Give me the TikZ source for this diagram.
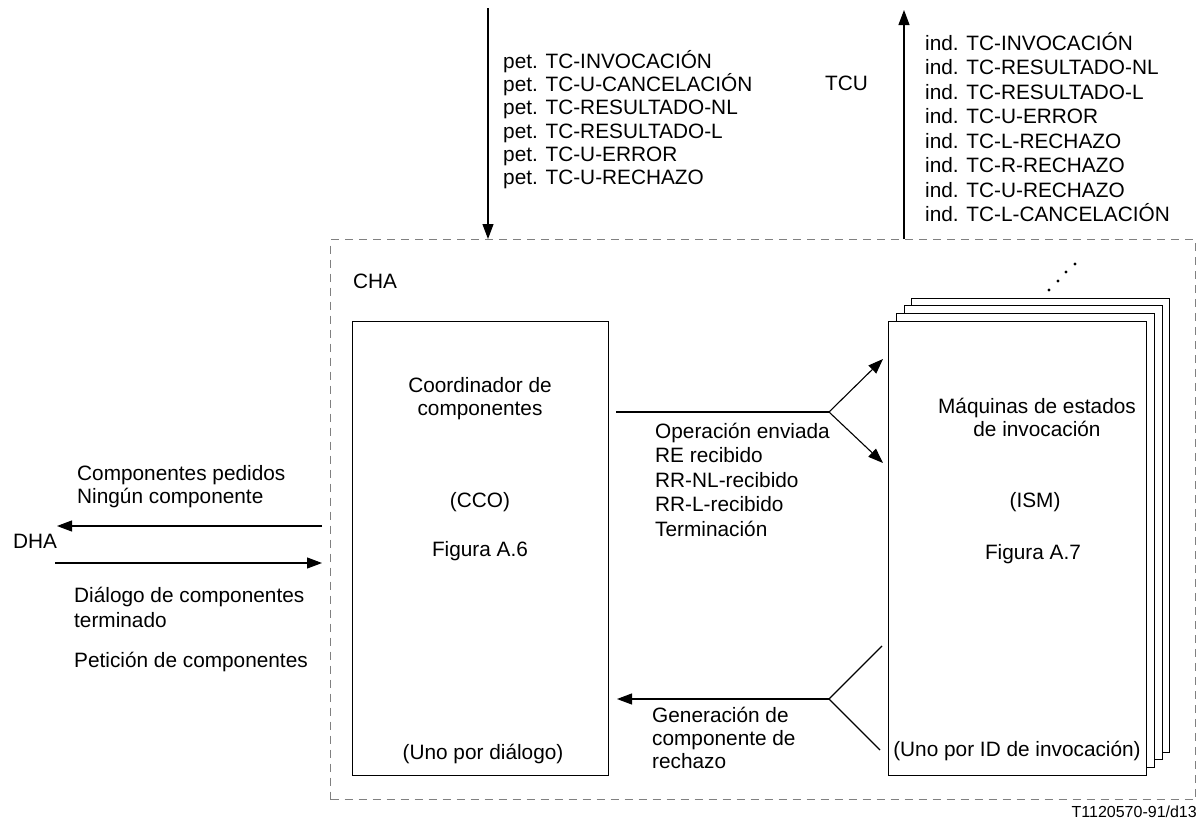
\documentclass[tikz,border=0pt]{standalone}
\usepackage{fontspec}
\setmainfont{Liberation Sans}
\usetikzlibrary{arrows.meta}
\begin{document}
\begin{tikzpicture}[x=1pt,y=-1pt,
  txt/.style={inner sep=0pt, font=\fontsize{20.8}{23.4}\selectfont, anchor=base west, align=left},
  ctxt/.style={inner sep=0pt, font=\fontsize{20.8}{23.4}\selectfont, anchor=base, align=center},
  box/.style={draw, line width=1.2pt, fill=white, anchor=north west, inner sep=0pt, minimum width=258pt, minimum height=454pt},
  ln/.style={line width=1.1pt},
  arr/.style={ln, -{Triangle[length=15pt,width=11pt]}},
  dbox/.style={draw=gray, line width=1pt, dash pattern=on 8pt off 6pt, anchor=north west, inner sep=0pt},
]
\useasboundingbox (0,0) rectangle (1200,825);

\node[dbox, minimum width=865pt, minimum height=560pt] (cha) at (330,239) {};
\node[txt] (chal) at (353,288) {CHA};

\node[box, minimum width=256pt] (cco) at (352,321) {};
\node[box] (ism3) at (911,298) {};
\node[box] (ism2) at (904,305) {};
\node[box] (ism1) at (896,313) {};
\node[box] (ism) at (888,321) {};
\foreach \p in {(1049,290),(1058,281),(1066,272),(1075,264)} \fill \p circle (1.7);

% base anchor = baseline of the last line
\node[ctxt] (coord) at (480,415.4) {Coordinador de\\componentes};
\node[ctxt] (ccol) at (480,507) {(CCO)};
\node[ctxt] (fig6) at (480,556) {Figura A.6};
\node[ctxt] (uno1) at (483,759) {(Uno por diálogo)};
\node[ctxt] (maq) at (1037,436.4) {Máquinas de estados\\de invocación};
\node[ctxt] (isml) at (1035,507) {(ISM)};
\node[ctxt] (fig7) at (1033,559) {Figura A.7};
\node[ctxt] (uno2) at (1017,756) {(Uno por ID de invocación)};

% top
\coordinate (tin) at (488,8);
\draw[arr] (tin) -- (tin |- cha.north);
\coordinate (tout) at (904,10);
\draw[arr] (tout |- cha.north) -- (tout);
\node[txt, font=\fontsize{20.8}{23.2}\selectfont] (pet) at (503,184.5) {pet. TC-INVOCACIÓN\\pet. TC-U-CANCELACIÓN\\pet. TC-RESULTADO-NL\\pet. TC-RESULTADO-L\\pet. TC-U-ERROR\\pet. TC-U-RECHAZO};
\node[txt] (tcu) at (825,90) {TCU};
\node[txt, font=\fontsize{20.8}{24.5}\selectfont] (ind) at (925,221.5) {ind. TC-INVOCACIÓN\\ind. TC-RESULTADO-NL\\ind. TC-RESULTADO-L\\ind. TC-U-ERROR\\ind. TC-L-RECHAZO\\ind. TC-R-RECHAZO\\ind. TC-U-RECHAZO\\ind. TC-L-CANCELACIÓN};

% upper fork
\coordinate (f1s) at (616,412);
\coordinate (f1) at (829,412);
\coordinate (f1a) at (883,359);
\coordinate (f1b) at (883,463);
\draw[ln] (f1s) -- (f1);
\draw[arr] (f1) -- (f1a);
\draw[arr] (f1) -- (f1b);
\node[txt, font=\fontsize{20.8}{24.6}\selectfont] (ops) at (655,536.4) {Operación enviada\\RE recibido\\RR-NL-recibido\\RR-L-recibido\\Terminación};

% lower fork
\coordinate (f2) at (829,699);
\coordinate (f2e) at (617,699);
\coordinate (f2a) at (882,646);
\coordinate (f2b) at (880,750);
\draw[ln] (f2a) -- (f2) -- (f2b);
\draw[arr] (f2) -- (f2e);
\node[txt] (gen) at (652,768.8) {Generación de\\componente de\\rechazo};

% left
\coordinate (l1s) at (322,526);
\coordinate (l1e) at (57,526);
\draw[arr] (l1s) -- (l1e);
\coordinate (l2s) at (55,563);
\coordinate (l2e) at (322,563);
\draw[arr] (l2s) -- (l2e);
\node[txt] (cp) at (77,503.4) {Componentes pedidos\\Ningún componente};
\node[txt] (dha) at (13,548) {DHA};
\node[txt, font=\fontsize{20.8}{25}\selectfont] (dial) at (74,627) {Diálogo de componentes\\terminado};
\node[txt] (pet2) at (74,667) {Petición de componentes};

\node[inner sep=0pt, anchor=base east, font=\fontsize{16}{18}\selectfont] (ref) at (1197,817) {T1120570-91/d13};
\end{tikzpicture}
\end{document}
